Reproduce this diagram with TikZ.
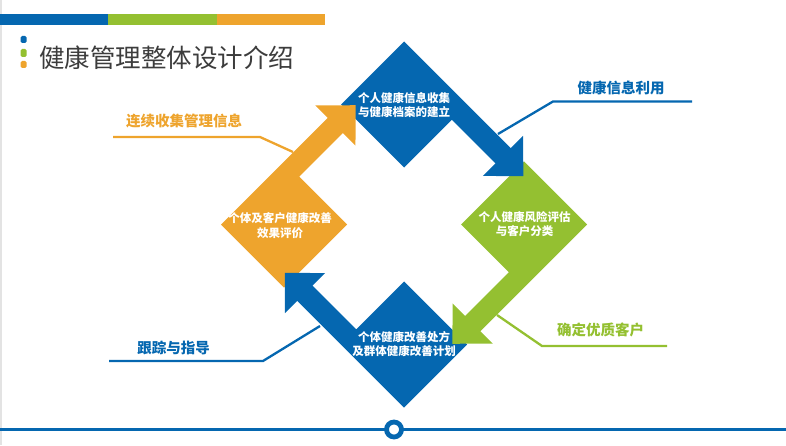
\documentclass[tikz,border=0pt]{standalone}
\usepackage{fontspec}
\newfontfamily\cjk{Noto Sans CJK SC}
\definecolor{hblue}{HTML}{0567B0}
\definecolor{hgreen}{HTML}{94C031}
\definecolor{horange}{HTML}{EEA42D}
\definecolor{htitle}{HTML}{3C3C3C}
\begin{document}
\begin{tikzpicture}[x=1pt,y=1pt,
  labeltext/.style={font=\cjk\bfseries\fontsize{14.5}{17}\selectfont, inner sep=0pt},
  diatext/.style={font=\cjk\bfseries\fontsize{11.5}{14.5}\selectfont, text=white, align=center, inner sep=0pt},
  callout/.style={line width=2.3pt},
  marker/.style={rounded corners=1.5pt},
]
\useasboundingbox (0,0) rectangle (786,445);
% left thin edge
\fill[gray!22] (0,0) rectangle (1.5,445);
% top colour bars
\fill[hblue] (0,420.3) rectangle (108,431);
\fill[hgreen] (108,420.3) rectangle (217,431);
\fill[horange] (217,420.3) rectangle (325,431);
% title markers
\fill[hblue, marker] (20.7,402) rectangle (26.7,409);
\fill[hgreen, marker] (20.7,388) rectangle (26.7,396);
\fill[horange, marker] (20.7,377) rectangle (26.7,384);
\node[anchor=west, inner sep=0pt, text=htitle, font=\cjk\fontsize{25.5}{30}\selectfont] (title) at (39,387) {健康管理整体设计介绍};

% callout lines (behind arrows)
\coordinate (c1a) at (692,343.5); \coordinate (c1b) at (553,343.5); \coordinate (c1c) at (498,311);
\coordinate (c2a) at (667,99);    \coordinate (c2b) at (542,99);    \coordinate (c2c) at (497,130);
\coordinate (c3a) at (109,84);    \coordinate (c3b) at (263,84);    \coordinate (c3c) at (320,119);
\coordinate (c4a) at (113,308);   \coordinate (c4b) at (260,308);   \coordinate (c4c) at (293,293);
\draw[callout, hblue] (c1a) -- (c1b) -- (c1c);
\draw[callout, hgreen] (c2a) -- (c2b) -- (c2c);
\draw[callout, hblue] (c3a) -- (c3b) -- (c3c);
\draw[callout, horange] (c4a) -- (c4b) -- (c4c);

\node[labeltext, text=hblue] (lab1) at (621,357) {健康信息利用};
\node[labeltext, text=hgreen] (lab2) at (600.5,115) {确定优质客户};
\node[labeltext, text=hblue] (lab3) at (173.5,97) {跟踪与指导};
\node[labeltext, text=horange] (lab4) at (184,323.5) {连续收集管理信息};

% diamond bodies with shafts
\foreach \k/\c in {0/hblue,1/hgreen,2/hblue,3/horange}{
  \begin{scope}[shift={(404,220.5)}, rotate=-90*\k, shift={(0,120)}, rotate=-45]
    \fill[\c] (-44.55,-44.55) -- (44.55,-44.55) -- (44.55,23) -- (107,23) -- (107,44.55) -- (-44.55,44.55) -- cycle;
  \end{scope}
}
% arrow heads (on top of next diamond)
\foreach \k/\c in {0/hblue,1/hgreen,2/hblue,3/horange}{
  \begin{scope}[shift={(404,220.5)}, rotate=-90*\k, shift={(0,120)}, rotate=-45]
    \fill[\c] (106.4,5.3) -- (134.9,33.75) -- (106.4,62.2) -- cycle;
  \end{scope}
}

% diamond texts
\node[diatext] (d1) at (404,340) {个人健康信息收集\\与健康档案的建立};
\node[diatext] (d2) at (524.5,221) {个人健康风险评估\\与客户分类};
\node[diatext] (d3) at (404,101) {个体健康改善处方\\及群体健康改善计划};
\node[diatext] (d4) at (280,219.5) {个体及客户健康改善\\效果评价};

% bottom line with circle
\coordinate (bl) at (0,15.5); \coordinate (br) at (786,15.5);
\draw[hblue, line width=2.5pt] (bl) -- (br);
\node[circle, draw=hblue, fill=white, line width=4.8pt, minimum size=15pt, inner sep=0pt] (dot) at (394,15.5) {};
\end{tikzpicture}
\end{document}
